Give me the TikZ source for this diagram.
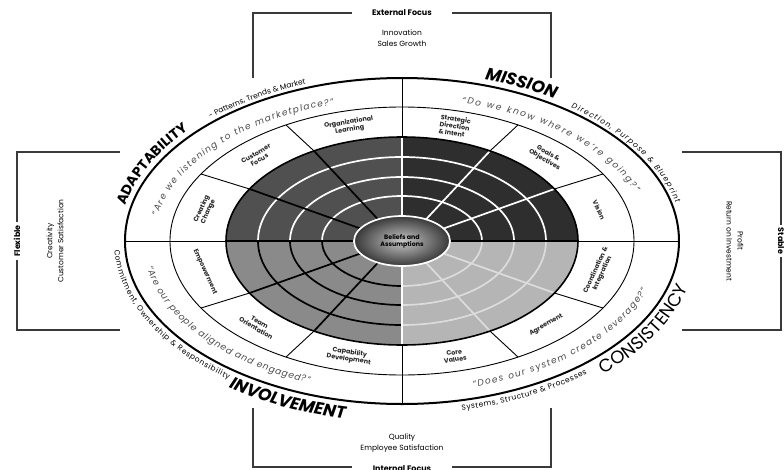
\documentclass[tikz,border=0pt]{standalone}
\usepackage{fontspec}
\setmainfont{Poppins}
\usetikzlibrary{decorations.text}
\definecolor{qTL}{HTML}{505050}
\definecolor{qTR}{HTML}{2E2E2E}
\definecolor{qBL}{HTML}{8A8A8A}
\definecolor{qBR}{HTML}{B5B5B5}
\definecolor{lineBR}{HTML}{DCDCDC}
\definecolor{boxline}{HTML}{3A3A3A}
\definecolor{quotegray}{HTML}{4A4A4A}
\newcommand{\myfs}[2]{\fontsize{#1}{#2}\selectfont}
\begin{document}
\begin{tikzpicture}[x=1pt,y=1pt,
  boxln/.style={draw=boxline,line width=1.5pt},
  seglab/.style={font=\bfseries\myfs{6.4}{7.2},align=center,inner sep=0pt,text=black!85},
  resl/.style={font=\myfs{7.5}{11},align=center,inner sep=1pt},
  axisl/.style={font=\bfseries\myfs{8}{9},fill=white,inner sep=3pt}]
\useasboundingbox (-402,-228) rectangle (382,241);
\fill[white] (-402,-228) rectangle (382,241);

% ---------- boxes ----------
\draw[boxln] (-149,163) -- (-149,228) -- (-50,228);
\draw[boxln] (50,228) -- (149,228) -- (149,163);
\node[axisl] (ext) at (0,228) {External Focus};
\node[resl] (extres) at (0,203) {Innovation\\Sales Growth};

\draw[boxln] (-149,-167) -- (-149,-226) -- (-50,-226);
\draw[boxln] (50,-226) -- (149,-226) -- (149,-167);
\node[axisl] (int) at (0,-228) {Internal Focus};
\node[resl] (intres) at (0,-202) {Quality\\Employee Satisfaction};

\draw[boxln] (-282,89) -- (-385,89) -- (-385,-89) -- (-282,-89);
\node[axisl,rotate=90] (flex) at (-385,0) {Flexible};
\node[resl,rotate=90] (flexres) at (-347,0) {Creativity\\Customer Satisfaction};

\draw[boxln] (280,89) -- (379,89) -- (379,-89) -- (280,-89);
\node[axisl,rotate=-90] (stab) at (379,0) {Stable};
\node[resl,rotate=-90] (stabres) at (333,0) {Profit\\Return on Investment};

% ---------- dark core ----------
\foreach \a/\fc/\lc in {0/qTR/white,90/qTL/white,180/qBL/black,270/qBR/lineBR}{
  \fill[\fc] (0,0) -- (\a:176pt and 104pt) arc[start angle=\a,delta angle=90,x radius=176pt,y radius=104pt] -- cycle;
  \foreach \rx/\ry in {144/84,112/64,80/45}{
    \draw[\lc,line width=1.7pt] (\a:\rx pt and \ry pt) arc[start angle=\a,delta angle=90,x radius=\rx pt,y radius=\ry pt];
  }
}
\foreach \b/\lc in {30/white,60/white,120/black,150/black,210/black,240/black,300/lineBR,330/lineBR}{
  \draw[\lc,line width=1.7pt] (\b:48pt and 25pt) -- (\b:176pt and 104pt);
}
\draw[white,line width=1.7pt] (0,25) -- (0,104);
\draw[white,line width=1.7pt] (0,-25) -- (0,-104);
\draw[black,line width=1.2pt] (-176,0) -- (-48,0);
\draw[black,line width=1.2pt] (48,0) -- (176,0);
\draw[black,line width=1.6pt] (0,0) ellipse[x radius=176pt,y radius=104pt];

\shade[inner color=black!22,outer color=black!78] (0,0) ellipse[x radius=48pt,y radius=25pt];
\draw[white,line width=1.7pt] (0,0) ellipse[x radius=48pt,y radius=25pt];
\node[font=\bfseries\myfs{6.3}{7},align=center,inner sep=0pt] (core) at (0,0) {Beliefs and\\Assumptions};

% ---------- white ring, spokes, axes ----------
\foreach \b in {30,60,120,150,210,240,300,330}{
  \draw[black,line width=0.9pt] (\b:176pt and 104pt) -- (\b:232pt and 134pt);
}
\draw[black,line width=1pt] (0,104) -- (0,163);
\draw[black,line width=1pt] (0,-104) -- (0,-163);
\draw[black,line width=1pt] (-277,0) -- (-176,0);
\draw[black,line width=1pt] (176,0) -- (277,0);
\draw[black,line width=0.9pt] (0,0) ellipse[x radius=232pt,y radius=134pt];
\draw[black,line width=2pt] (0,0) ellipse[x radius=277pt,y radius=163pt];

% ---------- segment labels ----------
\node[seglab,rotate=65.3] (cc) at (165:204pt and 119pt) {Creating\\Change};
\node[seglab,rotate=30.3] (cf) at (135:204pt and 119pt) {Customer\\Focus};
\node[seglab,rotate=8.9] (ol) at (105:204pt and 119pt) {Organizational\\Learning};
\node[seglab,rotate=-8.9,align=left] (sd) at (75:204pt and 119pt) {Strategic\\Direction\\\& Intent};
\node[seglab,rotate=-30.3] (go) at (45:204pt and 119pt) {Goals \&\\Objectives};
\node[seglab,rotate=-65.3] (vi) at (15:204pt and 119pt) {Vision};
\node[seglab,rotate=65.3] (ci) at (345:204pt and 119pt) {Coordination \&\\Integration};
\node[seglab,rotate=30.3] (ag) at (315:204pt and 119pt) {Agreement};
\node[seglab,rotate=8.9] (cv) at (285:204pt and 119pt) {Core\\Values};
\node[seglab,rotate=-8.9] (cd) at (255:204pt and 119pt) {Capability\\Development};
\node[seglab,rotate=-30.3] (to) at (225:204pt and 119pt) {Team\\Orientation};
\node[seglab,rotate=-65.3] (em) at (195:204pt and 119pt) {Empowerment};

% ---------- quotes ----------
\path[decorate,decoration={text along path,text align={fit to path},text color=quotegray,
  text={|\itshape\myfs{9}{9}|“Are we listening to the marketplace?”}}]
  (170:248pt and 142pt) arc[start angle=170,end angle=106,x radius=248pt,y radius=142pt];
\path[decorate,decoration={text along path,text align={fit to path},text color=quotegray,
  text={|\itshape\myfs{9}{9}|“Do we know where we’re going?”}}]
  (76:248pt and 142pt) arc[start angle=76,end angle=20,x radius=248pt,y radius=142pt];
\path[decorate,decoration={text along path,text align={fit to path},text color=quotegray,
  text={|\itshape\myfs{9}{9}|“Are our people aligned and engaged?”}}]
  (190:259pt and 152pt) arc[start angle=190,end angle=249,x radius=259pt,y radius=152pt];
\path[decorate,decoration={text along path,text align={fit to path},text color=quotegray,
  text={|\itshape\myfs{9}{9}|“Does our system create leverage?”}}]
  (286:259pt and 152pt) arc[start angle=286,end angle=341,x radius=259pt,y radius=152pt];

% ---------- trait labels ----------
\path[decorate,decoration={text along path,
  text={|\bfseries\myfs{14}{14}|ADAPTABILITY}}]
  (168:283pt and 169pt) arc[start angle=168,end angle=90,x radius=283pt,y radius=169pt];
\path[decorate,decoration={text along path,text align={fit to path},
  text={|\myfs{7.5}{7.5}|- Patterns, Trends {\&} Market}}]
  (133:281pt and 167pt) arc[start angle=133,end angle=110,x radius=281pt,y radius=167pt];
\path[decorate,decoration={text along path,
  text={|\bfseries\itshape\myfs{17}{17}|MISSION}}]
  (73:283pt and 169pt) arc[start angle=73,end angle=20,x radius=283pt,y radius=169pt];
\path[decorate,decoration={text along path,text align={fit to path},
  text={|\itshape\myfs{7.5}{7.5}|Direction, Purpose {\&} Blueprint}}]
  (53:281pt and 167pt) arc[start angle=53,end angle=13,x radius=281pt,y radius=167pt];
\path[decorate,decoration={text along path,text align={fit to path},
  text={|\myfs{7.5}{7.5}|Commitment, Ownership {\&} Responsibility}}]
  (183:288pt and 173pt) arc[start angle=183,end angle=233,x radius=288pt,y radius=173pt];
\path[decorate,decoration={text along path,
  text={|\bfseries\itshape\myfs{17}{17}|INVOLVEMENT}}]
  (234:295pt and 181pt) arc[start angle=234,end angle=300,x radius=295pt,y radius=181pt];
\path[decorate,decoration={text along path,text align={fit to path},
  text={|\myfs{7.5}{7.5}|Systems, Structure {\&} Processes}}]
  (282:288pt and 173pt) arc[start angle=282,end angle=310,x radius=288pt,y radius=173pt];
\path[decorate,decoration={text along path,
  text={|\myfs{18}{18}|CONSISTENCY}}]
  (313:296pt and 182pt) arc[start angle=313,end angle=370,x radius=296pt,y radius=182pt];
\end{tikzpicture}
\end{document}
